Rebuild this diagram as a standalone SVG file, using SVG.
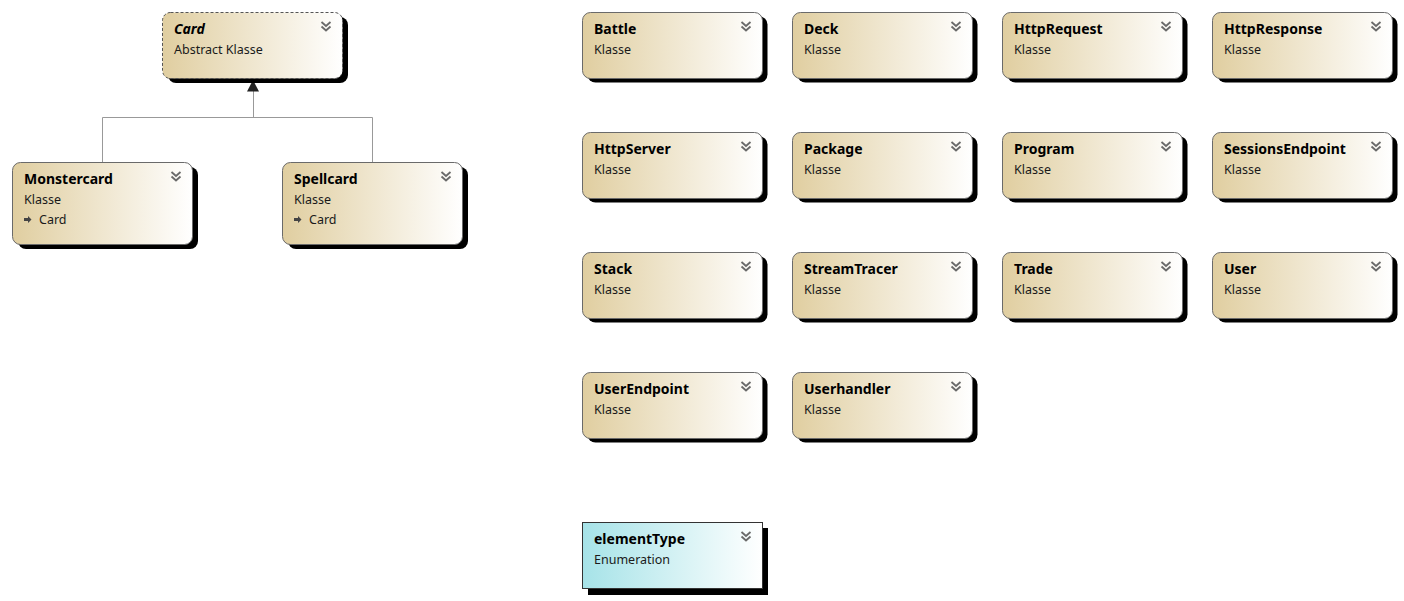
<svg xmlns="http://www.w3.org/2000/svg" width="1404" height="601" viewBox="0 0 1404 601">
<defs>
<linearGradient id="gc" x1="0" y1="0" x2="1" y2="0">
<stop offset="0" stop-color="#E0CEA0"/>
<stop offset="1" stop-color="#FFFFFF"/>
</linearGradient>
<linearGradient id="ge" x1="0" y1="0" x2="1" y2="0">
<stop offset="0" stop-color="#A6E3E8"/>
<stop offset="1" stop-color="#FFFFFF"/>
</linearGradient>
<g id="chev"><path d="M-4.5,0 L0,4 L4.5,0 M-4.5,4.5 L0,8.5 L4.5,4.5" fill="none" stroke="#6a6a6a" stroke-width="1.8"/></g>
<g id="inh"><path d="M0,2 H4 V0 L7.5,3.5 L4,7 V5 H0 Z" fill="#444"/></g>
</defs>
<style>
.sh{fill:#000}
.bx{fill:url(#gc);stroke:#6a6a6a;stroke-width:1}
.dash{stroke-dasharray:3,2;stroke:#555}
.en{fill:url(#ge);stroke:#333;stroke-width:1}
.t{font-family:"Noto Sans","Open Sans","DejaVu Sans",sans-serif;font-size:14px;font-weight:bold;fill:#000}
.ti{font-style:italic}
.s{font-family:"Noto Sans","Open Sans","DejaVu Sans",sans-serif;font-size:12.5px;fill:#1a1a1a}
.ln{fill:none;stroke:#999;stroke-width:1}
</style>
<rect width="1404" height="601" fill="#fff"/>
<g id="connectors">
<path class="ln" d="M253.5,91 V117.5 M102.5,117.5 H372.5 M102.5,117.5 V162 M372.5,117.5 V162"/>
<path d="M253,80 L247,91.5 L259,91.5 Z" fill="#222"/>
</g>
<g id="Card">
<rect class="sh" x="168" y="17" width="180" height="66" rx="8"/>
<rect class="bx dash" x="162.5" y="12.5" width="180" height="66" rx="8"/>
<text class="t ti" x="174" y="33.5">Card</text>
<text class="s" x="174" y="53.5">Abstract Klasse</text>
<use href="#chev" x="326" y="22"/>
</g>
<g id="Monstercard">
<rect class="sh" x="18" y="167" width="180" height="82" rx="8"/>
<rect class="bx" x="12.5" y="162.5" width="180" height="82" rx="8"/>
<text class="t" x="24" y="183.5">Monstercard</text>
<text class="s" x="24" y="203.5">Klasse</text>
<use href="#inh" x="24" y="216"/>
<text class="s" x="39" y="223.5">Card</text>
<use href="#chev" x="176" y="172"/>
</g>
<g id="Spellcard">
<rect class="sh" x="288" y="167" width="180" height="82" rx="8"/>
<rect class="bx" x="282.5" y="162.5" width="180" height="82" rx="8"/>
<text class="t" x="294" y="183.5">Spellcard</text>
<text class="s" x="294" y="203.5">Klasse</text>
<use href="#inh" x="294" y="216"/>
<text class="s" x="309" y="223.5">Card</text>
<use href="#chev" x="446" y="172"/>
</g>
<g id="Battle" transform="translate(582,12)">
<rect class="sh" x="5.5" y="4.5" width="180" height="66" rx="8"/>
<rect class="bx" x="0.5" y="0.5" width="180" height="66" rx="8"/>
<text class="t" x="12" y="21.5">Battle</text><text class="s" x="12" y="41.5">Klasse</text>
<use href="#chev" x="164" y="10"/>
</g>
<g id="Deck" transform="translate(792,12)">
<rect class="sh" x="5.5" y="4.5" width="180" height="66" rx="8"/>
<rect class="bx" x="0.5" y="0.5" width="180" height="66" rx="8"/>
<text class="t" x="12" y="21.5">Deck</text><text class="s" x="12" y="41.5">Klasse</text>
<use href="#chev" x="164" y="10"/>
</g>
<g id="HttpRequest" transform="translate(1002,12)">
<rect class="sh" x="5.5" y="4.5" width="180" height="66" rx="8"/>
<rect class="bx" x="0.5" y="0.5" width="180" height="66" rx="8"/>
<text class="t" x="12" y="21.5">HttpRequest</text><text class="s" x="12" y="41.5">Klasse</text>
<use href="#chev" x="164" y="10"/>
</g>
<g id="HttpResponse" transform="translate(1212,12)">
<rect class="sh" x="5.5" y="4.5" width="180" height="66" rx="8"/>
<rect class="bx" x="0.5" y="0.5" width="180" height="66" rx="8"/>
<text class="t" x="12" y="21.5">HttpResponse</text><text class="s" x="12" y="41.5">Klasse</text>
<use href="#chev" x="164" y="10"/>
</g>
<g id="HttpServer" transform="translate(582,132)">
<rect class="sh" x="5.5" y="4.5" width="180" height="66" rx="8"/>
<rect class="bx" x="0.5" y="0.5" width="180" height="66" rx="8"/>
<text class="t" x="12" y="21.5">HttpServer</text><text class="s" x="12" y="41.5">Klasse</text>
<use href="#chev" x="164" y="10"/>
</g>
<g id="Package" transform="translate(792,132)">
<rect class="sh" x="5.5" y="4.5" width="180" height="66" rx="8"/>
<rect class="bx" x="0.5" y="0.5" width="180" height="66" rx="8"/>
<text class="t" x="12" y="21.5">Package</text><text class="s" x="12" y="41.5">Klasse</text>
<use href="#chev" x="164" y="10"/>
</g>
<g id="Program" transform="translate(1002,132)">
<rect class="sh" x="5.5" y="4.5" width="180" height="66" rx="8"/>
<rect class="bx" x="0.5" y="0.5" width="180" height="66" rx="8"/>
<text class="t" x="12" y="21.5">Program</text><text class="s" x="12" y="41.5">Klasse</text>
<use href="#chev" x="164" y="10"/>
</g>
<g id="SessionsEndpoint" transform="translate(1212,132)">
<rect class="sh" x="5.5" y="4.5" width="180" height="66" rx="8"/>
<rect class="bx" x="0.5" y="0.5" width="180" height="66" rx="8"/>
<text class="t" x="12" y="21.5">SessionsEndpoint</text><text class="s" x="12" y="41.5">Klasse</text>
<use href="#chev" x="164" y="10"/>
</g>
<g id="Stack" transform="translate(582,252)">
<rect class="sh" x="5.5" y="4.5" width="180" height="66" rx="8"/>
<rect class="bx" x="0.5" y="0.5" width="180" height="66" rx="8"/>
<text class="t" x="12" y="21.5">Stack</text><text class="s" x="12" y="41.5">Klasse</text>
<use href="#chev" x="164" y="10"/>
</g>
<g id="StreamTracer" transform="translate(792,252)">
<rect class="sh" x="5.5" y="4.5" width="180" height="66" rx="8"/>
<rect class="bx" x="0.5" y="0.5" width="180" height="66" rx="8"/>
<text class="t" x="12" y="21.5">StreamTracer</text><text class="s" x="12" y="41.5">Klasse</text>
<use href="#chev" x="164" y="10"/>
</g>
<g id="Trade" transform="translate(1002,252)">
<rect class="sh" x="5.5" y="4.5" width="180" height="66" rx="8"/>
<rect class="bx" x="0.5" y="0.5" width="180" height="66" rx="8"/>
<text class="t" x="12" y="21.5">Trade</text><text class="s" x="12" y="41.5">Klasse</text>
<use href="#chev" x="164" y="10"/>
</g>
<g id="User" transform="translate(1212,252)">
<rect class="sh" x="5.5" y="4.5" width="180" height="66" rx="8"/>
<rect class="bx" x="0.5" y="0.5" width="180" height="66" rx="8"/>
<text class="t" x="12" y="21.5">User</text><text class="s" x="12" y="41.5">Klasse</text>
<use href="#chev" x="164" y="10"/>
</g>
<g id="UserEndpoint" transform="translate(582,372)">
<rect class="sh" x="5.5" y="4.5" width="180" height="66" rx="8"/>
<rect class="bx" x="0.5" y="0.5" width="180" height="66" rx="8"/>
<text class="t" x="12" y="21.5">UserEndpoint</text><text class="s" x="12" y="41.5">Klasse</text>
<use href="#chev" x="164" y="10"/>
</g>
<g id="Userhandler" transform="translate(792,372)">
<rect class="sh" x="5.5" y="4.5" width="180" height="66" rx="8"/>
<rect class="bx" x="0.5" y="0.5" width="180" height="66" rx="8"/>
<text class="t" x="12" y="21.5">Userhandler</text><text class="s" x="12" y="41.5">Klasse</text>
<use href="#chev" x="164" y="10"/>
</g>
<g id="elementType" transform="translate(582,522)">
<rect class="sh" x="6" y="6" width="180" height="67"/>
<rect class="en" x="0.5" y="0.5" width="180" height="66"/>
<text class="t" x="12" y="21.5">elementType</text><text class="s" x="12" y="41.5">Enumeration</text>
<use href="#chev" x="164" y="10"/>
</g>
</svg>
